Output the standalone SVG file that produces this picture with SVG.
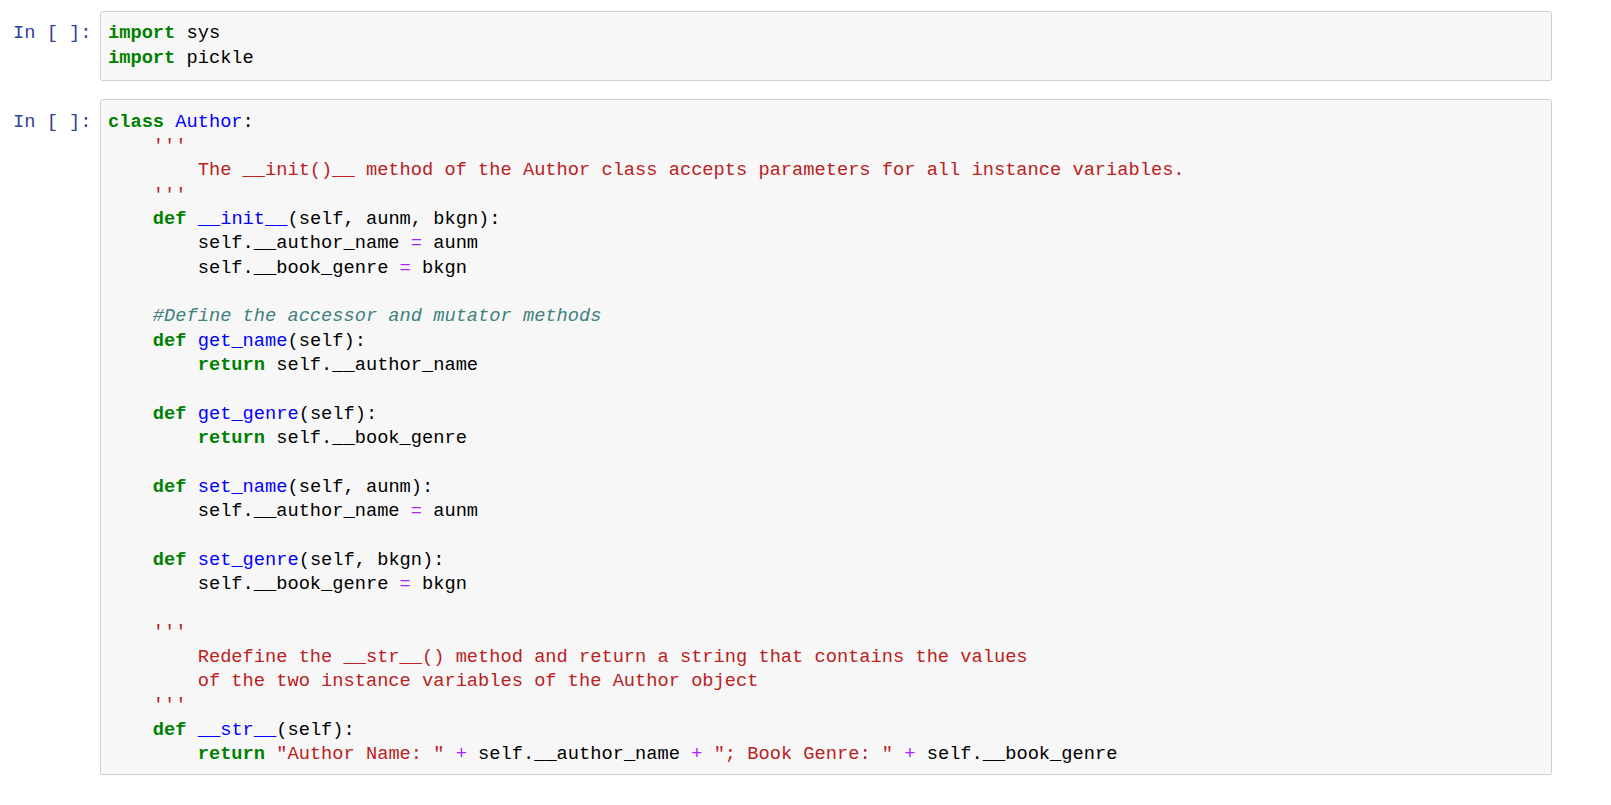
<svg xmlns="http://www.w3.org/2000/svg" width="1611" height="805" viewBox="0 0 1611 805">
<style>
text{font-family:"Liberation Mono","DejaVu Sans Mono",monospace;font-size:18.7px;fill:#000;white-space:pre}
.p{fill:#303F9F}
.k{fill:#008000;font-weight:bold}
.n{fill:#0000FF}
.s{fill:#BA2121}
.o{fill:#AA22FF}
.c{fill:#408080;font-style:italic}
.cell{fill:#F7F7F7;stroke:#CFCFCF;stroke-width:1}
</style>
<rect width="1611" height="805" fill="#fff"/>
<g id="cell1">
<rect class="cell" x="100.5" y="11.5" width="1451" height="69" rx="2"/>
<text class="p" x="13" y="38" xml:space="preserve">In [ ]:</text>
<text x="108" y="38" xml:space="preserve"><tspan class="k">import</tspan> sys</text>
<text x="108" y="63" xml:space="preserve"><tspan class="k">import</tspan> pickle</text>
</g>
<g id="cell2">
<rect class="cell" x="100.5" y="99.5" width="1451" height="675" rx="2"/>
<text class="p" x="13" y="127" xml:space="preserve">In [ ]:</text>
<g xml:space="preserve">
<text x="108" y="127"><tspan class="k">class</tspan> <tspan class="n">Author</tspan>:</text>
<text x="108" y="151" class="s">    '''</text>
<text x="108" y="175" class="s">        The __init()__ method of the Author class accepts parameters for all instance variables.</text>
<text x="108" y="200" class="s">    '''</text>
<text x="108" y="224">    <tspan class="k">def</tspan> <tspan class="n">__init__</tspan>(self, aunm, bkgn):</text>
<text x="108" y="248">        self.__author_name <tspan class="o">=</tspan> aunm</text>
<text x="108" y="273">        self.__book_genre <tspan class="o">=</tspan> bkgn</text>
<text x="108" y="321" class="c">    #Define the accessor and mutator methods</text>
<text x="108" y="346">    <tspan class="k">def</tspan> <tspan class="n">get_name</tspan>(self):</text>
<text x="108" y="370">        <tspan class="k">return</tspan> self.__author_name</text>
<text x="108" y="419">    <tspan class="k">def</tspan> <tspan class="n">get_genre</tspan>(self):</text>
<text x="108" y="443">        <tspan class="k">return</tspan> self.__book_genre</text>
<text x="108" y="492">    <tspan class="k">def</tspan> <tspan class="n">set_name</tspan>(self, aunm):</text>
<text x="108" y="516">        self.__author_name <tspan class="o">=</tspan> aunm</text>
<text x="108" y="565">    <tspan class="k">def</tspan> <tspan class="n">set_genre</tspan>(self, bkgn):</text>
<text x="108" y="589">        self.__book_genre <tspan class="o">=</tspan> bkgn</text>
<text x="108" y="637" class="s">    '''</text>
<text x="108" y="662" class="s">        Redefine the __str__() method and return a string that contains the values</text>
<text x="108" y="686" class="s">        of the two instance variables of the Author object</text>
<text x="108" y="710" class="s">    '''</text>
<text x="108" y="735">    <tspan class="k">def</tspan> <tspan class="n">__str__</tspan>(self):</text>
<text x="108" y="759">        <tspan class="k">return</tspan> <tspan class="s">"Author Name: "</tspan> <tspan class="o">+</tspan> self.__author_name <tspan class="o">+</tspan> <tspan class="s">"; Book Genre: "</tspan> <tspan class="o">+</tspan> self.__book_genre</text>
</g>
</g>
</svg>
